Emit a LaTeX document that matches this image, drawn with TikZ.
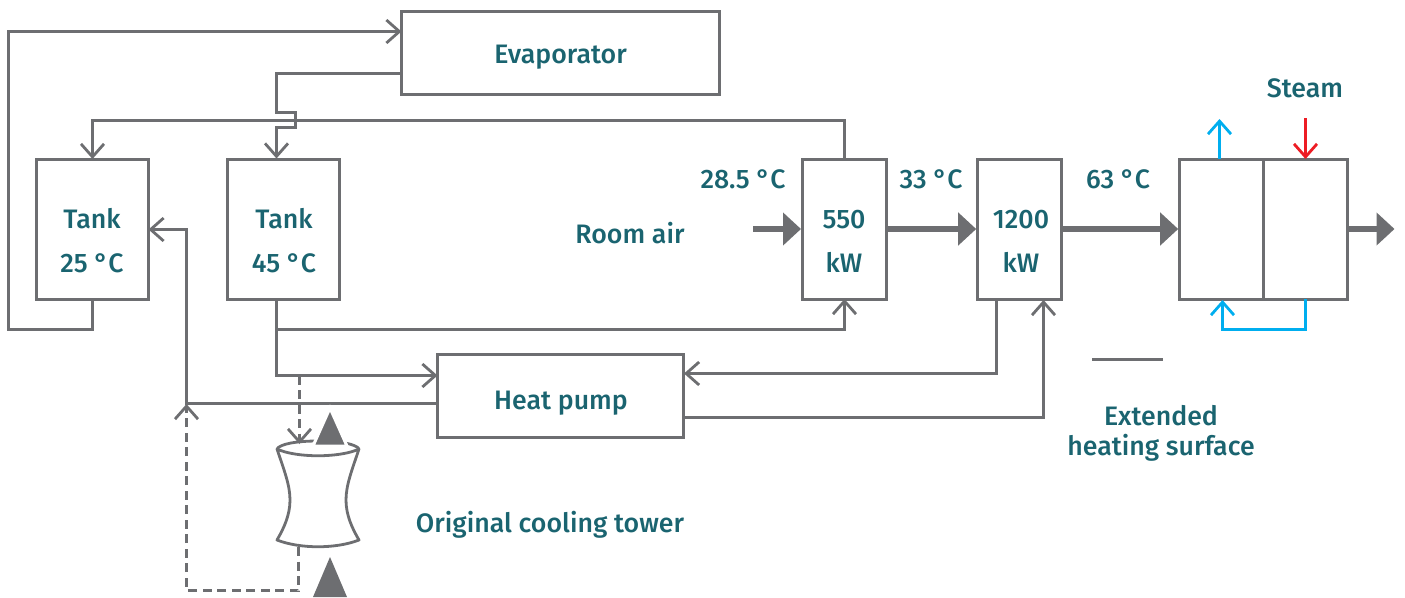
\documentclass[tikz,border=0pt]{standalone}
\usepackage{fontspec}
\setmainfont{Fira Sans}[UprightFont=* Medium]
\usetikzlibrary{arrows.meta,calc}
\definecolor{ln}{HTML}{6D6E71}
\definecolor{tx}{HTML}{1A6470}
\definecolor{bl}{HTML}{00AEEF}
\definecolor{rd}{HTML}{ED1C24}
\tikzset{
 boxn/.style={draw=ln,line width=3pt,fill=white,rectangle,inner sep=0pt,outer sep=0pt},
 lab/.style={text=tx,font=\fontsize{26.7}{30}\selectfont,inner sep=0pt,anchor=base},
 conn/.style={draw=ln,line width=2.8pt,line join=miter,-{Straight Barb[length=13pt,width=23pt,line width=2.8pt]}},
 plain/.style={draw=ln,line width=2.8pt,line join=miter},
 dashline/.style={dash pattern=on 9pt off 5.5pt},
 heavy/.style={draw=ln,line width=6.5pt,-{Triangle[length=18pt,width=32pt]},shorten >=1.5pt},
 coolb/.style={draw=bl,line width=2.8pt,-{Straight Barb[length=13pt,width=23pt,line width=2.8pt]}},
 hot/.style={draw=rd,line width=2.8pt,-{Straight Barb[length=13pt,width=23pt,line width=2.8pt]}},
}
\begin{document}
\begin{tikzpicture}[x=1pt,y=-1pt]
\useasboundingbox (0,0) rectangle (1405,597);
% boxes
\node[boxn,minimum width=318pt,minimum height=82.5pt] (evap) at (560.5,53.2) {};
\node[boxn,minimum width=112pt,minimum height=140pt] (tanka) at (92.5,229) {};
\node[boxn,minimum width=112pt,minimum height=140pt] (tankb) at (283.2,229) {};
\node[boxn,minimum width=84pt,minimum height=140pt] (hxa) at (844.5,229) {};
\node[boxn,minimum width=84pt,minimum height=140pt] (hxb) at (1019.7,229) {};
\node[boxn,minimum width=84pt,minimum height=140pt] (hxc) at (1221.7,229) {};
\node[boxn,minimum width=84pt,minimum height=140pt] (hxd) at (1305.5,229) {};
\node[boxn,minimum width=245.5pt,minimum height=83pt] (pump) at (560.7,395.5) {};
% named points
\coordinate (ein) at (401.5,31.5);
\coordinate (eout) at (401.5,73.5);
\coordinate (ja) at (276.5,112.5);
\coordinate (jb) at (295.5,112.5);
\coordinate (jc) at (295.5,127.5);
\coordinate (jd) at (276.5,127.5);
\coordinate (tbin) at (276.5,158.5);
\coordinate (tbout) at (276.5,300);
\coordinate (fork) at (276.5,329.5);
\coordinate (hatop) at (844.5,120.5);
\coordinate (wa) at (92.5,120.5);
\coordinate (ra) at (8.5,329.5);
\coordinate (rb) at (8.5,31.5);
\coordinate (pin) at (437.5,375.5);
\coordinate (pc) at (276.5,375.5);
\coordinate (pl) at (438,403.5);
\coordinate (pv) at (186.5,403.5);
\coordinate (vt) at (186.5,229.5);
\coordinate (hxbo) at (996.5,300);
\coordinate (hxbr) at (996.5,373.5);
\coordinate (pa) at (684,373.5);
\coordinate (pr) at (683,417.5);
\coordinate (prb) at (1043.5,417.5);
\coordinate (hxbi) at (1043.5,300);
\coordinate (da) at (299.5,375.5);
\coordinate (db) at (299.5,444);
\coordinate (dc) at (298.5,547);
\coordinate (dd) at (298.5,590.5);
\coordinate (de) at (186.5,590.5);
\coordinate (df) at (186.5,404);
\coordinate (airin) at (753,229);
\coordinate (outend) at (1396,229);
\coordinate (blueup) at (1219.5,119);
\coordinate (redtop) at (1305.5,118);
\coordinate (blbr) at (1305.5,329.5);
\coordinate (blbl) at (1222.5,329.5);
\coordinate (blin) at (1222.5,300);
% connectors
\draw[conn] (tanka.south) |- (ra) -- (rb) -- (ein);
\draw[conn] (eout) -| (ja) -- (jb) -- (jc) -- (jd) -- (tbin);
\draw[conn] (hxa.north) -- (hatop) -- (wa) -- (tanka.north);
\draw[conn] (tbout) -- (pc) -- (pin);
\draw[conn] (fork) -| (hxa.south);
\draw[conn,dashline] (da) -- (db);
\draw[conn] (pl) -- (pv) -- (vt) -- (vt -| tanka.east);
\draw[conn,dashline] (dc) -- (dd) -- (de) -- (df);
\draw[conn] (hxbo) -- (hxbr) -- (pa);
\draw[conn] (pr) -- (prb) -- (hxbi);
\draw[heavy] (airin) -- (hxa.west);
\draw[heavy] (hxa.east) -- (hxb.west);
\draw[heavy] (hxb.east) -- (hxc.west);
\draw[heavy] (hxd.east) -- (outend);
\draw[coolb] (hxc.north -| blueup) -- (blueup);
\draw[hot] (redtop) -- (hxd.north);
\draw[coolb] (hxd.south) -- (blbr) -- (blbl) -- (blin);
% cooling tower
\draw[plain,fill=white,line join=round] (277,449)
  .. controls (284,470) and (290,485) .. (290,500)
  .. controls (290,515) and (284,528) .. (277,540)
  .. controls (300,549) and (336,549) .. (359,540)
  .. controls (352,528) and (346,515) .. (346,500)
  .. controls (346,485) and (352,470) .. (359,449)
  .. controls (340,458) and (296,458) .. (277,449) -- cycle;
\draw[plain] (277,449) .. controls (280,444) and (296,441) .. (318,441) .. controls (340,441) and (356,444) .. (359,449);
\fill[ln,draw=white,line width=3pt] (330,408) -- (347,446) -- (313,446) -- cycle;
\fill[ln] (330,557) -- (347,597) -- (313,597) -- cycle;
% lines
\coordinate (sa) at (1092,359.5);
\coordinate (sb) at (1163,359.5);
\draw[plain] (sa) -- (sb);
% labels
\node[lab] (t0) at (560.5,63.5) {Evaporator};
\node[lab] (t1) at (92,228.5) {Tank};
\node[lab] (t2) at (92,272.7) {25 °C};
\node[lab] (t3) at (284,228.5) {Tank};
\node[lab] (t4) at (284,272.7) {45 °C};
\node[lab] (t5) at (844,228.5) {550};
\node[lab] (t6) at (844,272.7) {kW};
\node[lab] (t7) at (1021,228.5) {1200};
\node[lab] (t8) at (1021,272.7) {kW};
\node[lab] (t9) at (630,243) {Room air};
\node[lab] (t10) at (743,188.5) {28.5 °C};
\node[lab] (t11) at (931,188.5) {33 °C};
\node[lab] (t12) at (1118,188.5) {63 °C};
\node[lab] (t13) at (1305,97.7) {Steam};
\node[lab] (t14) at (1161,425) {Extended};
\node[lab] (t15) at (1161,455) {heating surface};
\node[lab] (t16) at (550,532) {Original cooling tower};
\node[lab] (t17) at (561,409) {Heat pump};
\end{tikzpicture}
\end{document}
